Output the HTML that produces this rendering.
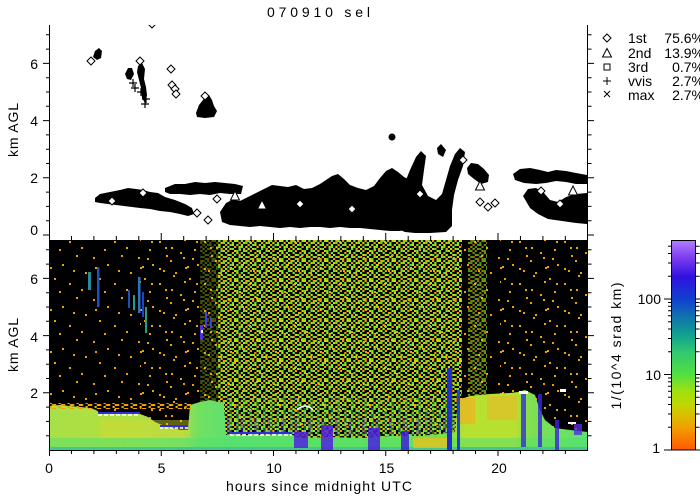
<!DOCTYPE html>
<html><head><meta charset="utf-8">
<style>
html,body{margin:0;padding:0;background:#fff;}
svg{display:block;}
text{font-family:"Liberation Sans",sans-serif;font-size:14px;fill:#000;}
.g{fill:#70e040}.y{fill:#c0e000}.o{fill:#f0a000}
</style></head><body>
<svg width="700" height="500" viewBox="0 0 700 500" xmlns="http://www.w3.org/2000/svg">
<defs>
<clipPath id="ctop"><rect x="50" y="25" width="537" height="210"/></clipPath>
<clipPath id="cbot"><rect x="49" y="240" width="539" height="210"/></clipPath>
<pattern id="dn" patternUnits="userSpaceOnUse" width="22.5" height="20">
<rect class="g" x="0" y="0" width="2.25" height="2"/><rect class="o" x="4.5" y="0" width="2.25" height="2"/><rect class="y" x="9" y="0" width="4.5" height="2"/><rect class="g" x="15.75" y="0" width="2.25" height="2"/><rect class="o" x="20.25" y="0" width="2.25" height="2"/>
<rect class="y" x="2.25" y="2" width="2.25" height="2"/><rect class="g" x="6.75" y="2" width="2.25" height="2"/><rect class="o" x="13.5" y="2" width="2.25" height="2"/><rect class="y" x="18" y="2" width="2.25" height="2"/><rect class="g" x="20.25" y="2" width="2.25" height="2"/>
<rect class="o" x="0" y="4" width="2.25" height="2"/><rect class="g" x="4.5" y="4" width="2.25" height="2"/><rect class="y" x="6.75" y="4" width="2.25" height="2"/><rect class="g" x="11.25" y="4" width="2.25" height="2"/><rect class="y" x="15.75" y="4" width="2.25" height="2"/>
<rect class="g" x="2.25" y="6" width="2.25" height="2"/><rect class="o" x="9" y="6" width="2.25" height="2"/><rect class="y" x="13.5" y="6" width="2.25" height="2"/><rect class="g" x="15.75" y="6" width="2.25" height="2"/><rect class="y" x="20.25" y="6" width="2.25" height="2"/>
<rect class="y" x="0" y="8" width="2.25" height="2"/><rect class="y" x="4.5" y="8" width="2.25" height="2"/><rect class="g" x="6.75" y="8" width="2.25" height="2"/><rect class="g" x="13.5" y="8" width="2.25" height="2"/><rect class="o" x="18" y="8" width="2.25" height="2"/>
<rect class="o" x="2.25" y="10" width="2.25" height="2"/><rect class="y" x="9" y="10" width="2.25" height="2"/><rect class="g" x="11.25" y="10" width="2.25" height="2"/><rect class="g" x="18" y="10" width="2.25" height="2"/><rect class="y" x="20.25" y="10" width="2.25" height="2"/>
<rect class="g" x="0" y="12" width="2.25" height="2"/><rect class="o" x="6.75" y="12" width="2.25" height="2"/><rect class="y" x="11.25" y="12" width="2.25" height="2"/><rect class="g" x="15.75" y="12" width="2.25" height="2"/>
<rect class="y" x="2.25" y="14" width="2.25" height="2"/><rect class="g" x="4.5" y="14" width="2.25" height="2"/><rect class="g" x="9" y="14" width="2.25" height="2"/><rect class="o" x="13.5" y="14" width="2.25" height="2"/><rect class="y" x="18" y="14" width="2.25" height="2"/>
<rect class="o" x="0" y="16" width="2.25" height="2"/><rect class="y" x="6.75" y="16" width="2.25" height="2"/><rect class="g" x="13.5" y="16" width="2.25" height="2"/><rect class="y" x="15.75" y="16" width="2.25" height="2"/><rect class="g" x="20.25" y="16" width="2.25" height="2"/>
<rect class="g" x="2.25" y="18" width="2.25" height="2"/><rect class="o" x="4.5" y="18" width="2.25" height="2"/><rect class="y" x="9" y="18" width="2.25" height="2"/><rect class="g" x="11.25" y="18" width="2.25" height="2"/><rect class="o" x="18" y="18" width="2.25" height="2"/>
</pattern>
<pattern id="sp" patternUnits="userSpaceOnUse" width="45" height="42">
<rect class="o" x="3" y="5" width="2" height="2"/><rect class="o" x="17" y="12" width="2" height="2"/><rect class="o" x="31" y="3" width="2" height="2"/><rect class="o" x="40" y="20" width="2" height="2"/><rect class="o" x="9" y="26" width="2" height="2"/><rect class="o" x="24" y="31" width="2" height="2"/><rect class="o" x="36" y="37" width="2" height="2"/><rect class="o" x="14" y="39" width="2" height="2"/><rect class="o" x="28" y="18" width="2" height="2"/><rect class="o" x="5" y="15" width="2" height="2"/>
</pattern>
<pattern id="sp2" patternUnits="userSpaceOnUse" width="45" height="42" patternTransform="translate(21,11)">
<rect class="o" x="3" y="5" width="2" height="2"/><rect class="o" x="17" y="12" width="2" height="2"/><rect class="o" x="31" y="3" width="2" height="2"/><rect class="o" x="40" y="20" width="2" height="2"/><rect class="o" x="9" y="26" width="2" height="2"/><rect class="o" x="24" y="31" width="2" height="2"/><rect class="o" x="36" y="37" width="2" height="2"/><rect class="o" x="14" y="39" width="2" height="2"/><rect class="o" x="28" y="18" width="2" height="2"/>
</pattern>
<pattern id="oe" patternUnits="userSpaceOnUse" width="9" height="4">
<rect class="o" x="0" y="0" width="2.25" height="2"/><rect class="o" x="4.5" y="2" width="2.25" height="2"/><rect class="o" x="6.75" y="0" width="2.25" height="2"/>
</pattern>
<pattern id="vs" patternUnits="userSpaceOnUse" width="13.5" height="40">
<rect x="0" y="0" width="2.25" height="40" fill="#60e060"/><rect x="6.75" y="8" width="2.25" height="32" fill="#40c8a0"/><rect x="11.25" y="18" width="2.25" height="22" fill="#5030e0"/>
</pattern>
<linearGradient id="gh" gradientUnits="userSpaceOnUse" x1="49" y1="0" x2="587" y2="0">
<stop offset="0" stop-color="#a8e048"/><stop offset=".13" stop-color="#b0e040"/><stop offset=".25" stop-color="#a0e050"/><stop offset=".28" stop-color="#70e060"/><stop offset=".33" stop-color="#60e070"/><stop offset=".47" stop-color="#60e060"/><stop offset=".65" stop-color="#70e050"/><stop offset=".745" stop-color="#80e040"/><stop offset=".773" stop-color="#b8e030"/><stop offset=".866" stop-color="#b8e030"/><stop offset=".894" stop-color="#80e050"/><stop offset="1" stop-color="#60e070"/>
</linearGradient>
<linearGradient id="cb" x1="0" y1="1" x2="0" y2="0">
<stop offset="0" stop-color="#ff5a00"/><stop offset=".063" stop-color="#f88000"/><stop offset=".108" stop-color="#f0a000"/><stop offset=".171" stop-color="#d8c000"/><stop offset=".217" stop-color="#c0d800"/><stop offset=".28" stop-color="#a0e010"/><stop offset=".36" stop-color="#50e040"/><stop offset=".468" stop-color="#30c870"/><stop offset=".55" stop-color="#10a090"/><stop offset=".64" stop-color="#1070b0"/><stop offset=".719" stop-color="#1040d0"/><stop offset=".827" stop-color="#3010e0"/><stop offset=".923" stop-color="#8040f0"/><stop offset="1" stop-color="#b080ff"/>
</linearGradient>
</defs>
<rect width="700" height="500" fill="#fff"/>

<!-- title -->
<text x="267" y="17" textLength="103" lengthAdjust="spacing">070910 sel</text>

<!-- ===== TOP PLOT ===== -->
<g clip-path="url(#ctop)">
<g fill="#000">
<path d="M95,198 L100,194 L110,192 L120,190 L128,188 L136,189 L143,190 L150,192 L158,193 L165,197 L175,200 L185,204 L192,208 L194,214 L188,216 L180,214 L170,212 L160,211 L150,209 L140,208 L132,207 L124,206 L116,205 L108,204 L100,203 L95,202 Z"/>
<path d="M165,188 L175,184 L185,184 L195,182 L205,183 L215,182 L225,183 L235,184 L243,186 L241,194 L230,194 L220,193 L210,195 L200,194 L190,195 L180,194 L170,194 L165,192 Z"/>
<path d="M220,212 L226,203 L232,200 L240,201 L248,197 L256,193 L264,189 L272,185 L280,186 L288,187 L296,185 L304,189 L312,188 L320,184 L326,180 L332,176 L338,174 L344,179 L350,185 L358,188 L366,190 L374,186 L380,178 L386,171 L392,168 L398,172 L404,177 L410,180 L412,195 L410,228 L400,231 L390,231 L380,230 L370,229 L360,228 L350,228 L340,227 L330,228 L320,227 L310,227 L300,228 L290,227 L280,228 L270,227 L260,226 L250,227 L240,226 L230,225 L222,222 Z"/>
<path d="M398,200 L404,185 L410,170 L416,157 L421,151 L426,156 L424,170 L422,185 L428,196 L436,200 L442,194 L446,180 L450,166 L455,154 L460,148 L465,152 L463,166 L458,180 L454,195 L452,210 L452,226 L446,232 L430,233 L415,233 L405,232 L398,229 Z"/>
<path d="M467,168 L471,163 L478,164 L484,169 L489,175 L488,182 L481,184 L474,179 L468,174 Z"/>
<path d="M513,174 L520,169 L530,168 L540,170 L548,172 L556,170 L566,171 L576,173 L587,175 L587,184 L576,184 L566,182 L556,181 L546,183 L536,184 L524,183 L515,180 Z"/>
<path d="M523,196 L528,189 L536,188 L544,193 L550,200 L558,202 L566,197 L576,194 L587,193 L587,224 L576,223 L562,221 L548,219 L538,214 L530,208 Z"/>
<path d="M93,57 L95,51 L99,48 L102,51 L101,58 L97,60 Z"/>
<path d="M125,74 L128,68 L132,68 L134,74 L131,80 L127,79 Z"/>
<path d="M138,66 L142,63 L145,69 L144,79 L146,87 L147,95 L145,103 L142,98 L141,88 L139,80 L137,72 Z"/>
<path d="M196,113 L199,105 L203,100 L205,96 L209,95 L212,100 L214,106 L217,111 L214,117 L205,118 L197,117 Z"/>
<circle cx="392" cy="137" r="3.5"/>
<path d="M437,148 L441,144 L446,150 L443,157 L438,154 Z"/>
</g>
<g fill="#fff" stroke="#000" stroke-width="1">
<path d="M91,57l4,4l-4,4l-4,-4z"/>
<path d="M140,57l4,4l-4,4l-4,-4z"/>
<path d="M152,20l4,4l-4,4l-4,-4z"/>
<path d="M171,65l4,4l-4,4l-4,-4z"/>
<path d="M172,81l4,4l-4,4l-4,-4z"/>
<path d="M175,85l4,4l-4,4l-4,-4z"/>
<path d="M176,90l4,4l-4,4l-4,-4z"/>
<path d="M197,209l4,4l-4,4l-4,-4z"/>
<path d="M208,216l4,4l-4,4l-4,-4z"/>
<path d="M217,195l4,4l-4,4l-4,-4z"/>
<path d="M205,92l4,4l-4,4l-4,-4z"/>
<path d="M463,156l4,4l-4,4l-4,-4z"/>
<path d="M480,198l4,4l-4,4l-4,-4z"/>
<path d="M488,203l4,4l-4,4l-4,-4z"/>
<path d="M495,199l4,4l-4,4l-4,-4z"/>
<path d="M541,187l4,4l-4,4l-4,-4z"/>
<path d="M143,189l4,4l-4,4l-4,-4z"/>
<path d="M112,197l4,4l-4,4l-4,-4z"/>
<path d="M300,200l4,4l-4,4l-4,-4z"/>
<path d="M352,205l4,4l-4,4l-4,-4z"/>
<path d="M420,190l4,4l-4,4l-4,-4z"/>
<path d="M560,200l4,4l-4,4l-4,-4z"/>
<path d="M480,181l4.5,9h-9z"/>
<path d="M235,191l4.5,9h-9z"/>
<path d="M573,186l4.5,9h-9z"/>
<path d="M262,200l4.5,9h-9z"/>
</g>
<path d="M129,83h8M133,79v8 M131,88h8M135,84v8 M141,104h8M145,100v8 M142,99h8M146,95v8 M137,92h8M141,88v8" stroke="#000" stroke-width="1.2" fill="none"/>
</g>
<!-- top axes -->
<path d="M49.5,25V240 M587.5,25V240" stroke="#000" fill="none"/>
<path d="M46,220.7h3.5M46,206.4h3.5M46,192.1h3.5M46,163.5h3.5M46,149.2h3.5M46,134.9h3.5M46,106.3h3.5M46,92h3.5M46,77.7h3.5M46,49.1h3.5M46,34.8h3.5 M43,235h6.5M43,177.8h6.5M43,120.6h6.5M43,63.4h6.5" stroke="#000" fill="none"/>
<path d="M588,220.7h3.5M588,206.4h3.5M588,192.1h3.5M588,163.5h3.5M588,149.2h3.5M588,134.9h3.5M588,106.3h3.5M588,92h3.5M588,77.7h3.5M588,49.1h3.5M588,34.8h3.5 M588,235h6M588,177.8h6M588,120.6h6M588,63.4h6" stroke="#000" fill="none"/>
<path d="M71.45,236V240M93.9,236V240M116.35,236V240M138.8,236V240M183.7,236V240M206.15,236V240M228.6,236V240M251.05,236V240M295.95,236V240M318.4,236V240M340.85,236V240M363.3,236V240M408.2,236V240M430.65,236V240M453.1,236V240M475.55,236V240M520.45,236V240M542.9,236V240M565.35,236V240 M161.25,233V240M273.5,233V240M385.75,233V240M498,233V240" stroke="#000" fill="none"/>
<text x="38" y="235" text-anchor="end">0</text>
<text x="38" y="183" text-anchor="end">2</text>
<text x="38" y="126" text-anchor="end">4</text>
<text x="38" y="69" text-anchor="end">6</text>
<text transform="translate(18,130) rotate(-90)" text-anchor="middle" textLength="54" lengthAdjust="spacing">km AGL</text>

<!-- legend -->
<g fill="none" stroke="#000" stroke-width="1">
<path d="M607,34l4,4l-4,4l-4,-4z"/>
<path d="M607,48.5l4.5,8.5h-9z"/>
<rect x="604" y="64" width="6" height="6"/>
<path d="M603,81h8M607,77v8"/>
<path d="M604,91l6,6M610,91l-6,6"/>
</g>
<text x="628" y="43">1st</text><text x="704" y="43" text-anchor="end">75.6%</text>
<text x="628" y="58">2nd</text><text x="704" y="58" text-anchor="end">13.9%</text>
<text x="628" y="72">3rd</text><text x="704" y="72" text-anchor="end">0.7%</text>
<text x="628" y="86">vvis</text><text x="704" y="86" text-anchor="end">2.7%</text>
<text x="628" y="100">max</text><text x="704" y="100" text-anchor="end">2.7%</text>

<!-- ===== BOTTOM PLOT ===== -->
<g clip-path="url(#cbot)">
<rect x="49" y="240" width="539" height="210" fill="#000"/>
<rect x="49" y="240" width="539" height="210" fill="url(#sp)"/>
<rect x="140" y="240" width="80" height="210" fill="url(#sp2)"/>
<rect x="500" y="240" width="88" height="210" fill="url(#sp2)"/>
<rect x="200" y="240" width="20" height="200" fill="url(#dn)" opacity=".4"/>
<rect x="218" y="240" width="244" height="200" fill="url(#dn)"/>
<rect x="468" y="240" width="19" height="180" fill="url(#dn)" opacity=".65"/>
<rect x="226" y="398" width="230" height="38" fill="url(#vs)" opacity=".4"/>
<!-- ground -->
<path d="M49,406 L60,405 L70,406 L80,407 L90,408 L96,410 L100,413 L110,414 L120,413 L130,412 L140,414 L148,417 L155,422 L162,425 L170,427 L180,430 L188,430 L190,405 L200,402 L210,400 L218,402 L224,404 L226,435 L260,435 L290,434 L300,438 L330,437 L360,438 L390,436 L420,436 L440,434 L455,432 L458,400 L470,396 L490,394 L510,393 L518,392 L525,390 L535,395 L540,410 L545,420 L555,428 L570,430 L588,432 L588,450 L49,450 Z" fill="url(#gh)"/>
<rect x="49" y="403" width="142" height="6" fill="url(#oe)"/>
<rect x="100" y="420" width="90" height="18" fill="#d8d830" opacity=".45"/>
<rect x="49" y="438" width="539" height="10" fill="#50e070" opacity=".5"/>
<rect x="49" y="447" width="539" height="3" fill="#40c890"/>
<rect x="413" y="438" width="34" height="10" fill="#e8c020" opacity=".8"/>
<rect x="458" y="398" width="17" height="26" fill="#f0b020" opacity=".7"/>
<rect x="487" y="396" width="30" height="24" fill="#e8b828" opacity=".6"/>
<!-- columns -->
<g>
<rect x="294" y="432" width="14" height="16" fill="#5020e0" opacity=".85"/>
<rect x="321" y="425" width="12" height="25" fill="#5520e0" opacity=".85"/>
<rect x="368" y="428" width="12" height="22" fill="#4a20e0" opacity=".85"/>
<rect x="401" y="431" width="8" height="19" fill="#4020d8" opacity=".85"/>
<rect x="447" y="368" width="5" height="82" fill="#2030d0"/>
<rect x="457" y="390" width="3" height="60" fill="#2040d0"/>
<rect x="521" y="392" width="5" height="55" fill="#3030d8" opacity=".8"/>
<rect x="538" y="394" width="4" height="53" fill="#3828e0" opacity=".8"/>
<rect x="555" y="420" width="4" height="30" fill="#4020e0" opacity=".8"/>
<rect x="574" y="424" width="8" height="11" fill="#5030e0" opacity=".8"/>
<rect x="230" y="432" width="62" height="2" fill="#3030e0"/>
<path d="M230,435H292" stroke="#fff" stroke-width="1.5" stroke-dasharray="4 2"/>
<rect x="98" y="412" width="42" height="2" fill="#3030e0"/>
<path d="M98,415H140" stroke="#fff" stroke-width="1.5" stroke-dasharray="4 2"/>
<rect x="160" y="425" width="28" height="2" fill="#3030e0"/>
<path d="M160,428H188" stroke="#fff" stroke-width="1.5" stroke-dasharray="3 2"/>
<path d="M297,410 Q305,402 313,410" stroke="#fff" stroke-width="1.5" fill="none"/>
<rect x="519" y="391" width="9" height="3" fill="#fff"/>
<rect x="560" y="389" width="6" height="3" fill="#fff"/>
<rect x="568" y="422" width="8" height="2" fill="#fff"/>
</g>
<!-- streaks aloft -->
<rect x="88" y="272" width="3" height="18" fill="#2a8a9a"/>
<rect x="97" y="267" width="2.5" height="40" fill="#2050c0"/>
<rect x="128" y="290" width="2" height="18" fill="#2050c0"/>
<rect x="133" y="295" width="2" height="15" fill="#20a080"/>
<rect x="138" y="277" width="2.5" height="36" fill="#3070c0"/>
<rect x="142" y="292" width="2" height="25" fill="#2040d0"/>
<rect x="145" y="307" width="2" height="26" fill="#20a080"/>
<rect x="200" y="325" width="3" height="15" fill="#5030e0"/>
<rect x="201" y="330" width="2" height="3" fill="#fff"/>
<rect x="205" y="312" width="2" height="15" fill="#4040e0"/>
<rect x="210" y="318" width="2" height="10" fill="#4040e0"/>
</g>
<!-- bottom axes -->
<path d="M49.5,240V450.5H588 M587.5,240V450.5" stroke="#000" fill="none"/>
<path d="M46,435.7h3.5M46,421.4h3.5M46,407.1h3.5M46,378.5h3.5M46,364.2h3.5M46,349.9h3.5M46,321.3h3.5M46,307h3.5M46,292.7h3.5M46,264.1h3.5M46,249.8h3.5 M43,392.8h6.5M43,335.6h6.5M43,278.4h6.5" stroke="#000" fill="none"/>
<path d="M588,435.7h3.5M588,421.4h3.5M588,407.1h3.5M588,378.5h3.5M588,364.2h3.5M588,349.9h3.5M588,321.3h3.5M588,307h3.5M588,292.7h3.5M588,264.1h3.5M588,249.8h3.5 M588,392.8h6M588,335.6h6M588,278.4h6" stroke="#000" fill="none"/>
<path d="M71.45,451V454M93.9,451V454M116.35,451V454M138.8,451V454M183.7,451V454M206.15,451V454M228.6,451V454M251.05,451V454M295.95,451V454M318.4,451V454M340.85,451V454M363.3,451V454M408.2,451V454M430.65,451V454M453.1,451V454M475.55,451V454M520.45,451V454M542.9,451V454M565.35,451V454 M49.5,451V456M161.25,451V456M273.5,451V456M385.75,451V456M498,451V456" stroke="#000" fill="none"/>
<text x="38" y="398" text-anchor="end">2</text>
<text x="38" y="342" text-anchor="end">4</text>
<text x="38" y="284" text-anchor="end">6</text>
<text transform="translate(18,345) rotate(-90)" text-anchor="middle" textLength="54" lengthAdjust="spacing">km AGL</text>
<text x="49" y="473" text-anchor="middle">0</text>
<text x="161.5" y="473" text-anchor="middle">5</text>
<text x="274" y="473" text-anchor="middle">10</text>
<text x="386.5" y="473" text-anchor="middle">15</text>
<text x="499" y="473" text-anchor="middle">20</text>
<text x="319" y="491" text-anchor="middle" textLength="186" lengthAdjust="spacing">hours since midnight UTC</text>

<!-- colorbar -->
<rect x="671.5" y="240.5" width="24" height="209.5" fill="url(#cb)" stroke="#000"/>
<path d="M668,427.3h3.5M668,414h3.5M668,404.5h3.5M668,397.2h3.5M668,391.2h3.5M668,386.2h3.5M668,381.8h3.5M668,378h3.5M668,351.8h3.5M668,338.5h3.5M668,329h3.5M668,321.7h3.5M668,315.7h3.5M668,310.7h3.5M668,306.3h3.5M668,302.5h3.5M668,276.3h3.5M668,263h3.5M668,253.5h3.5M668,246.2h3.5 M664,450h7.5M664,374.5h7.5M664,299h7.5" stroke="#000" fill="none"/>
<path d="M696,427.3h3.5M696,414h3.5M696,404.5h3.5M696,397.2h3.5M696,391.2h3.5M696,386.2h3.5M696,381.8h3.5M696,378h3.5M696,351.8h3.5M696,338.5h3.5M696,329h3.5M696,321.7h3.5M696,315.7h3.5M696,310.7h3.5M696,306.3h3.5M696,302.5h3.5M696,276.3h3.5M696,263h3.5M696,253.5h3.5M696,246.2h3.5 M696,450h5M696,374.5h5M696,299h5" stroke="#000" fill="none"/>
<text x="661" y="304" text-anchor="end">100</text>
<text x="661" y="380" text-anchor="end">10</text>
<text x="660" y="453" text-anchor="end">1</text>
<text transform="translate(621,346) rotate(-90)" text-anchor="middle" textLength="127" lengthAdjust="spacing">1/(10^4 srad km)</text>
</svg>
</body></html>
